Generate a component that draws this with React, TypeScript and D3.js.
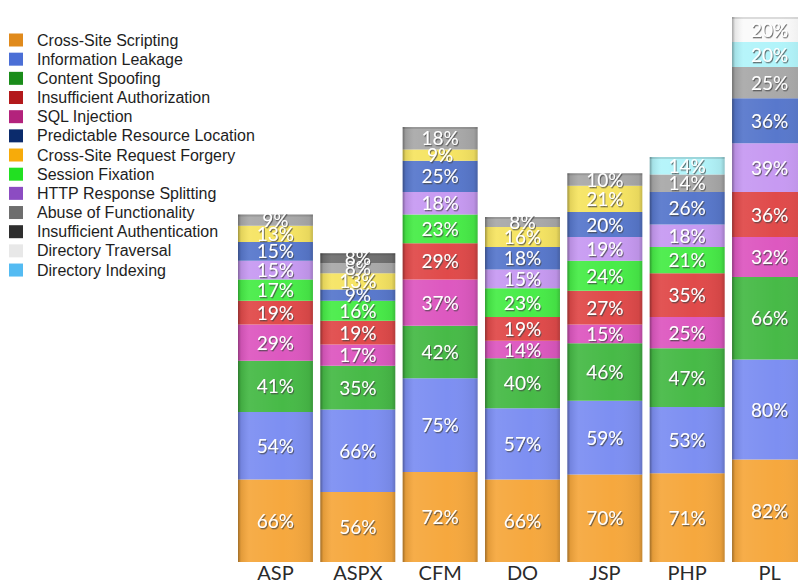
import React from "react";
import * as d3 from "d3";

const categories = ["ASP", "ASPX", "CFM", "DO", "JSP", "PHP", "PL"];

// legend order
const legendNames = [
  "Cross-Site Scripting",
  "Information Leakage",
  "Content Spoofing",
  "Insufficient Authorization",
  "SQL Injection",
  "Predictable Resource Location",
  "Cross-Site Request Forgery",
  "Session Fixation",
  "HTTP Response Splitting",
  "Abuse of Functionality",
  "Insufficient Authentication",
  "Directory Traversal",
  "Directory Indexing",
];
const legendColors = [
  "#e08a1c", "#4b6fd6", "#1a8c1a", "#b3191b", "#b3227c", "#0b2b6c",
  "#f7ab0a", "#22e022", "#8c4cc2", "#6e6e6e", "#2e2e2e", "#e8e8e8", "#54bbf2",
];

// stack order (bottom to top)
const stackKeys = [
  "Cross-Site Scripting",
  "Information Leakage",
  "Content Spoofing",
  "SQL Injection",
  "Insufficient Authorization",
  "Session Fixation",
  "HTTP Response Splitting",
  "Predictable Resource Location",
  "Cross-Site Request Forgery",
  "Abuse of Functionality",
  "Insufficient Authentication",
  "Directory Indexing",
  "Directory Traversal",
];
const barColors = [
  "#f6a83e", "#7d8ff2", "#47ba47", "#dd58c0", "#e04a4a", "#48ec48",
  "#c79af2", "#5878cc", "#f6e462", "#a9a9a9", "#707070", "#b2f4fa", "#fafafa",
];

const xss = [66, 56, 72, 66, 70, 71, 82];
const infoLeak = [54, 66, 75, 57, 59, 53, 80];
const contentSpoof = [41, 35, 42, 40, 46, 47, 66];
const sqlInj = [29, 17, 37, 14, 15, 25, 32];
const insufAuthz = [19, 19, 29, 19, 27, 35, 36];
const sessionFix = [17, 16, 23, 23, 24, 21, 0];
const httpSplit = [15, 0, 18, 15, 19, 18, 39];
const predictable = [15, 9, 25, 18, 20, 26, 36];
const csrf = [13, 13, 9, 16, 21, 0, 0];
const abuse = [9, 8, 18, 8, 10, 14, 25];
const insufAuthn = [0, 8, 0, 0, 0, 0, 0];
const dirIndexing = [0, 0, 0, 0, 0, 14, 20];
const dirTraversal = [0, 0, 0, 0, 0, 0, 20];

const seriesValues = [
  xss, infoLeak, contentSpoof, sqlInj, insufAuthz, sessionFix, httpSplit,
  predictable, csrf, abuse, insufAuthn, dirIndexing, dirTraversal,
];

export default function App() {
  const W = 798, H = 583;
  const baseline = 562;
  const table = categories.map((c, i) => {
    const row: any = { cat: c };
    stackKeys.forEach((k, j) => (row[k] = seriesValues[j][i]));
    return row;
  });
  const stacked = d3.stack<any>().keys(stackKeys)(table);

  const x = d3.scaleBand().domain(categories).range([238, 807]).paddingInner(0.09).paddingOuter(0);
  const y = d3.scaleLinear().domain([0, 400]).range([baseline, baseline - 500]);
  const bw = x.bandwidth();

  return (
    <svg width={W} height={H} style={{ display: "block", position: "absolute", left: 0, top: 0 }}>
      <defs>
        <linearGradient id="gloss" x1="0" x2="1" y1="0" y2="0">
          <stop offset="0" stopColor="#000" stopOpacity="0.35" />
          <stop offset="0.04" stopColor="#000" stopOpacity="0.08" />
          <stop offset="0.15" stopColor="#fff" stopOpacity="0.06" />
          <stop offset="0.6" stopColor="#fff" stopOpacity="0.0" />
          <stop offset="0.95" stopColor="#000" stopOpacity="0.06" />
          <stop offset="1" stopColor="#000" stopOpacity="0.2" />
        </linearGradient>
        <filter id="tshadow" x="-20%" y="-30%" width="140%" height="160%">
          <feDropShadow dx="1" dy="1.3" stdDeviation="0.7" floodColor="#444" floodOpacity="0.75" />
        </filter>
      </defs>
      <rect width={W} height={H} fill="#fff" />
      {/* legend */}
      {legendNames.map((n, i) => (
        <g key={n} transform={`translate(0, ${40 + i * 19.17})`}>
          <rect x={9} y={-6.5} width={14} height={13} fill={legendColors[i]} />
          <text x={37} y={5.5} fontFamily="Liberation Sans, Arial, sans-serif" fontSize={16} fill="#1e1e1e">
            {n}
          </text>
        </g>
      ))}
      {/* bars */}
      {stacked.map((s, j) => (
        <g key={s.key}>
          {s.map((d, i) => {
            const v = d[1] - d[0];
            if (!v) return null;
            return (
              <rect
                key={i}
                x={x(categories[i])}
                y={y(d[1])}
                width={bw}
                height={y(d[0]) - y(d[1])}
                fill={barColors[j]}
              />
            );
          })}
        </g>
      ))}
      {categories.map((c, i) => {
        const top = stacked[stacked.length - 1][i][1];
        return (
          <g key={c}>
            <rect x={x(c)} y={y(top)} width={bw} height={baseline - y(top)} fill="url(#gloss)" />
            <rect x={x(c)} y={y(top)} width={bw} height={2} fill="#000" opacity={0.12} />
          </g>
        );
      })}
      {/* segment labels */}
      {stacked.map((s, j) => (
        <g key={"l" + s.key}>
          {s.map((d, i) => {
            const v = d[1] - d[0];
            if (!v) return null;
            return (
              <text
                key={i}
                x={(x(categories[i]) as number) + bw / 2}
                y={(y(d[0]) + y(d[1])) / 2 + 7}
                textAnchor="middle"
                fontFamily="Lato, Open Sans, sans-serif"
                fontSize={19}
                fill="#fff"
                filter="url(#tshadow)"
              >
                {v}%
              </text>
            );
          })}
        </g>
      ))}
      {/* category labels */}
      {categories.map((c) => (
        <text
          key={"c" + c}
          x={(x(c) as number) + bw / 2}
          y={580}
          textAnchor="middle"
          fontFamily="Lato, Open Sans, sans-serif"
          fontSize={20}
          fill="#2a2a2a"
        >
          {c}
        </text>
      ))}
    </svg>
  );
}
